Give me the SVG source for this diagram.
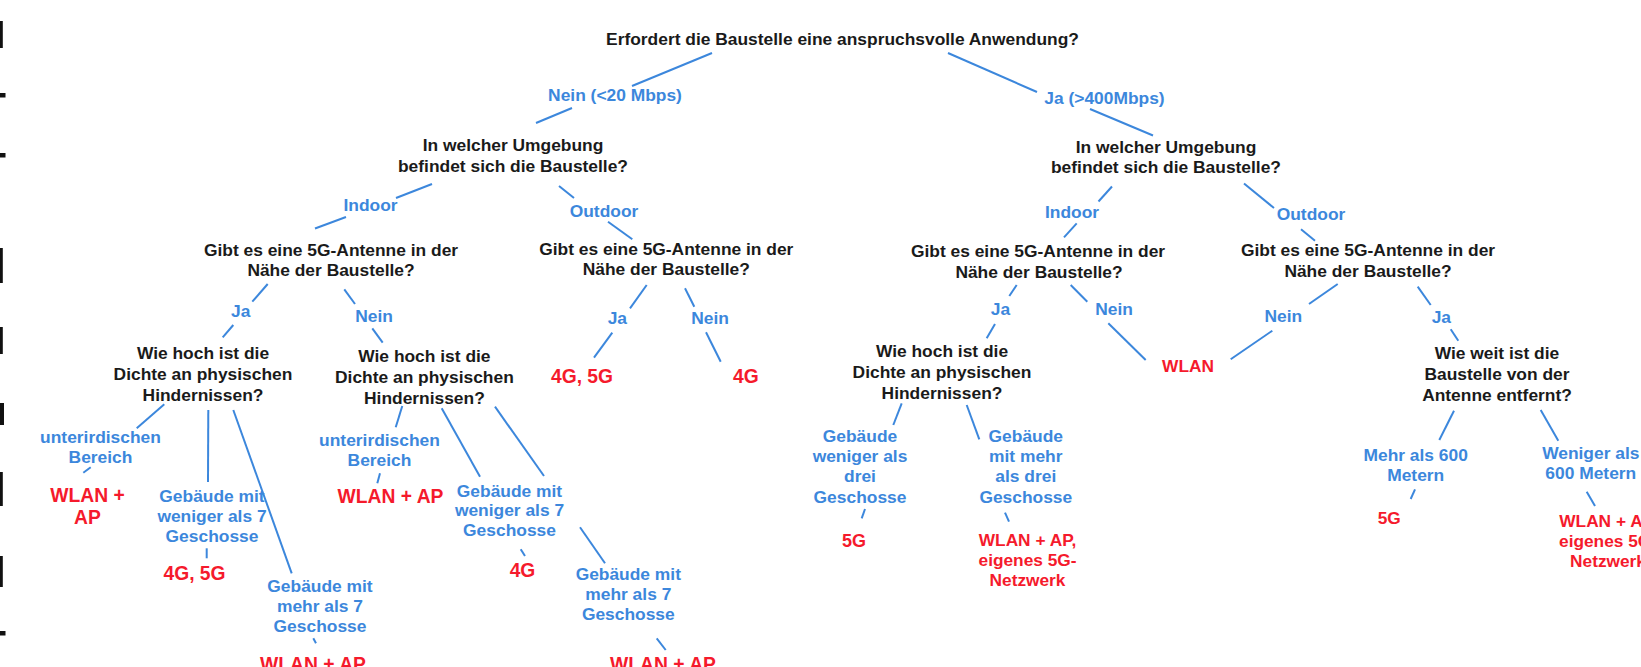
<svg xmlns="http://www.w3.org/2000/svg" width="1641" height="667" viewBox="0 0 1641 667">
<style>
text{font-family:"Liberation Sans",Arial,sans-serif;font-weight:bold;text-anchor:middle}
.q{fill:#1a1a1a;font-size:17.4px}
.b{fill:#3c87dc;font-size:17.4px}
.r{fill:#f51a2c;font-size:19.3px}
.rs{fill:#f51a2c;font-size:17.3px}
#connectors line{stroke:#3c87dc;stroke-width:2;fill:none}
.mark{fill:#111}
</style>
<rect width="1641" height="667" fill="#fff"/>
<g id="edge-marks">
<rect class="mark" x="0" y="21" width="2.8" height="27"/>
<rect class="mark" x="0" y="93" width="5.5" height="4.5"/>
<rect class="mark" x="0" y="153" width="5.5" height="4.5"/>
<rect class="mark" x="0" y="248" width="2.8" height="35"/>
<rect class="mark" x="0" y="327" width="2.8" height="27"/>
<rect class="mark" x="0" y="403" width="4" height="22"/>
<rect class="mark" x="0" y="472" width="2.8" height="34"/>
<rect class="mark" x="0" y="556" width="2.8" height="31"/>
<rect class="mark" x="0" y="631" width="5.5" height="4.5"/>
</g>
<g id="connectors">
<line x1="712" y1="53" x2="632" y2="86"/>
<line x1="948" y1="53" x2="1037" y2="92"/>
<line x1="572" y1="108" x2="536" y2="123"/>
<line x1="1090" y1="109" x2="1153" y2="135.5"/>
<line x1="432" y1="184" x2="396" y2="198"/>
<line x1="346" y1="217" x2="315" y2="228.5"/>
<line x1="559" y1="186" x2="574" y2="198"/>
<line x1="608" y1="221.7" x2="632.3" y2="239.3"/>
<line x1="1112" y1="186.5" x2="1098.5" y2="201.5"/>
<line x1="1076.7" y1="223.3" x2="1064" y2="237.3"/>
<line x1="1244" y1="183.5" x2="1274" y2="208"/>
<line x1="1301" y1="229.3" x2="1315" y2="240.7"/>
<line x1="267.7" y1="284" x2="252.3" y2="301.7"/>
<line x1="233.3" y1="325" x2="222.7" y2="337.3"/>
<line x1="344.3" y1="289.3" x2="355" y2="304"/>
<line x1="372.3" y1="328.3" x2="382.7" y2="342.7"/>
<line x1="164.3" y1="404.3" x2="136.7" y2="428.3"/>
<line x1="208.3" y1="410" x2="208" y2="482"/>
<line x1="233.3" y1="410" x2="291.7" y2="573.3"/>
<line x1="83.3" y1="472.7" x2="90.7" y2="467.3"/>
<line x1="206.7" y1="548.3" x2="206.7" y2="558.3"/>
<line x1="313.3" y1="638.3" x2="316" y2="643.3"/>
<line x1="402.3" y1="406" x2="395.7" y2="427.3"/>
<line x1="377.3" y1="483.3" x2="380" y2="473.3"/>
<line x1="441.7" y1="408.3" x2="480" y2="476.7"/>
<line x1="495" y1="406.7" x2="544" y2="476"/>
<line x1="520.7" y1="549.3" x2="525" y2="556"/>
<line x1="580" y1="527.3" x2="605" y2="563.3"/>
<line x1="656.7" y1="638.3" x2="665.7" y2="650"/>
<line x1="646.7" y1="285" x2="630" y2="308.3"/>
<line x1="612.3" y1="332.7" x2="594" y2="357.7"/>
<line x1="685" y1="288.3" x2="694.3" y2="306.7"/>
<line x1="706" y1="332.3" x2="720.7" y2="361.7"/>
<line x1="1016.7" y1="285" x2="1009.3" y2="296"/>
<line x1="995" y1="324" x2="986.7" y2="338.3"/>
<line x1="1070.7" y1="285" x2="1087.3" y2="301.7"/>
<line x1="1108.3" y1="323.3" x2="1145.7" y2="360"/>
<line x1="901.7" y1="403.3" x2="893.3" y2="425"/>
<line x1="966.7" y1="405" x2="979.3" y2="439.3"/>
<line x1="861.7" y1="518.3" x2="865" y2="509"/>
<line x1="1005" y1="512.7" x2="1009" y2="521.7"/>
<line x1="1337.7" y1="284" x2="1309" y2="304"/>
<line x1="1272.3" y1="330.7" x2="1230.7" y2="359.3"/>
<line x1="1417.7" y1="286.7" x2="1430.7" y2="305"/>
<line x1="1450.7" y1="329.3" x2="1458.3" y2="340.7"/>
<line x1="1454" y1="410.7" x2="1439.3" y2="440"/>
<line x1="1540.7" y1="410" x2="1558.3" y2="440.7"/>
<line x1="1415" y1="489.3" x2="1410.7" y2="499"/>
<line x1="1586.7" y1="491.7" x2="1595" y2="506"/>
</g>
<g id="labels">
<text class="b" x="615" y="101">Nein (&lt;20 Mbps)</text>
<text class="b" x="1104.5" y="103.5">Ja (&gt;400Mbps)</text>
<text class="b" x="370.5" y="211">Indoor</text>
<text class="b" x="604" y="216.5">Outdoor</text>
<text class="b" x="1072" y="217.5">Indoor</text>
<text class="b" x="1311" y="219.5">Outdoor</text>
<text class="b" x="240.7" y="317">Ja</text>
<text class="b" x="374" y="321.5">Nein</text>
<text class="b" x="617.3" y="324">Ja</text>
<text class="b" x="710" y="324">Nein</text>
<text class="b" x="1000.5" y="315">Ja</text>
<text class="b" x="1114" y="315">Nein</text>
<text class="b" x="1283.3" y="321.5">Nein</text>
<text class="b" x="1441.3" y="323">Ja</text>
<text class="b" x="100.5" y="442.5">unterirdischen<tspan x="100.5" dy="20.5">Bereich</tspan></text>
<text class="b" x="212" y="501.7">Gebäude mit<tspan x="212" dy="20">weniger als 7</tspan><tspan x="212" dy="20">Geschosse</tspan></text>
<text class="b" x="320" y="591.7">Gebäude mit<tspan x="320" dy="20">mehr als 7</tspan><tspan x="320" dy="20">Geschosse</tspan></text>
<text class="b" x="379.5" y="445.5">unterirdischen<tspan x="379.5" dy="20">Bereich</tspan></text>
<text class="b" x="509.5" y="496.7">Gebäude mit<tspan x="509.5" dy="19.7">weniger als 7</tspan><tspan x="509.5" dy="19.7">Geschosse</tspan></text>
<text class="b" x="628.3" y="580">Gebäude mit<tspan x="628.3" dy="20">mehr als 7</tspan><tspan x="628.3" dy="20">Geschosse</tspan></text>
<text class="b" x="860" y="441.7">Gebäude<tspan x="860" dy="20.3">weniger als</tspan><tspan x="860" dy="20.3">drei</tspan><tspan x="860" dy="20.3">Geschosse</tspan></text>
<text class="b" x="1025.8" y="441.7">Gebäude<tspan x="1025.8" dy="20.3">mit mehr</tspan><tspan x="1025.8" dy="20.3">als drei</tspan><tspan x="1025.8" dy="20.3">Geschosse</tspan></text>
<text class="b" x="1415.7" y="460.7">Mehr als 600<tspan x="1415.7" dy="20">Metern</tspan></text>
<text class="b" x="1590.8" y="459.3">Weniger als<tspan x="1590.8" dy="20">600 Metern</tspan></text>
</g>
<g id="q-root"><text class="q" x="842.5" y="44.5">Erfordert die Baustelle eine anspruchsvolle Anwendung?</text></g>
<g id="q-env-left"><text class="q" x="513" y="150.5">In welcher Umgebung<tspan x="513" dy="21">befindet sich die Baustelle?</tspan></text></g>
<g id="q-env-right"><text class="q" x="1166" y="152.5">In welcher Umgebung<tspan x="1166" dy="20.5">befindet sich die Baustelle?</tspan></text></g>
<g id="q-ant-a"><text class="q" x="331" y="255.7">Gibt es eine 5G-Antenne in der<tspan x="331" dy="20.5">Nähe der Baustelle?</tspan></text></g>
<g id="q-ant-b"><text class="q" x="666.3" y="255">Gibt es eine 5G-Antenne in der<tspan x="666.3" dy="20.3">Nähe der Baustelle?</tspan></text></g>
<g id="q-ant-c"><text class="q" x="1038" y="256.7">Gibt es eine 5G-Antenne in der<tspan x="1039" dy="21.3">Nähe der Baustelle?</tspan></text></g>
<g id="q-ant-d"><text class="q" x="1368" y="256">Gibt es eine 5G-Antenne in der<tspan x="1368" dy="20.7">Nähe der Baustelle?</tspan></text></g>
<g id="q-dens-1"><text class="q" x="203" y="359.3">Wie hoch ist die<tspan x="203" dy="21">Dichte an physischen</tspan><tspan x="203" dy="21">Hindernissen?</tspan></text></g>
<g id="q-dens-2"><text class="q" x="424.4" y="361.5">Wie hoch ist die<tspan x="424.4" dy="21">Dichte an physischen</tspan><tspan x="424.4" dy="21">Hindernissen?</tspan></text></g>
<g id="q-dens-3"><text class="q" x="942" y="357.3">Wie hoch ist die<tspan x="942" dy="21">Dichte an physischen</tspan><tspan x="942" dy="21">Hindernissen?</tspan></text></g>
<g id="q-dist"><text class="q" x="1497" y="359.3">Wie weit ist die<tspan x="1497" dy="20.7">Baustelle von der</tspan><tspan x="1497" dy="20.7">Antenne entfernt?</tspan></text></g>
<g id="r-wlan-ap-1"><text class="r" x="87.5" y="501.7">WLAN +<tspan x="87.5" dy="22.6">AP</tspan></text></g>
<g id="r-4g5g-1"><text class="r" x="194.5" y="580">4G, 5G</text></g>
<g id="r-wlan-ap-2"><text class="r" x="313" y="671">WLAN + AP</text></g>
<g id="r-wlan-ap-3"><text class="r" x="390.5" y="503.3">WLAN + AP</text></g>
<g id="r-4g-1"><text class="r" x="522.5" y="576.7">4G</text></g>
<g id="r-wlan-ap-4"><text class="r" x="663" y="671">WLAN + AP</text></g>
<g id="r-4g5g-2"><text class="r" x="582" y="383.3">4G, 5G</text></g>
<g id="r-4g-2"><text class="r" x="745.8" y="383.3">4G</text></g>
<g id="r-wlan"><text class="rs" x="1188" y="371.5">WLAN</text></g>
<g id="r-5g-1"><text class="rs" x="854" y="546.7" style="font-size:18px">5G</text></g>
<g id="r-wlan-5g-1"><text class="rs" x="1027.5" y="546">WLAN + AP,<tspan x="1027.5" dy="20">eigenes 5G-</tspan><tspan x="1027.5" dy="20">Netzwerk</tspan></text></g>
<g id="r-5g-2"><text class="rs" x="1389.2" y="524">5G</text></g>
<g id="r-wlan-5g-2"><text class="rs" x="1608" y="526.7">WLAN + AP,<tspan x="1608" dy="20">eigenes 5G-</tspan><tspan x="1608" dy="20">Netzwerk</tspan></text></g>
</svg>
